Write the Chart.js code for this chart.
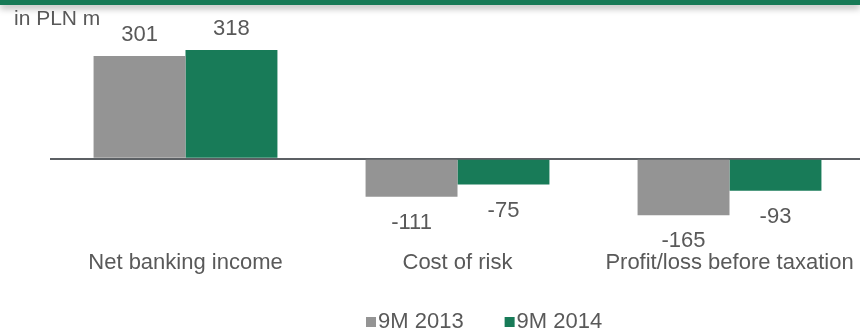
<!DOCTYPE html>
<html>
<head>
<meta charset="utf-8">
<script src="https://cdn.jsdelivr.net/npm/chart.js@4/dist/chart.umd.min.js"></script>
<style>
  html, body { margin: 0; padding: 0; background: #fff; }
  #wrap { position: relative; width: 860px; height: 331px; overflow: hidden; }
  #bar-top {
    position: absolute; left: 0; top: 0; width: 860px; height: 5px;
    background: #187a57; box-shadow: 0 3px 7px rgba(0,0,0,0.35); z-index: 2;
  }
  #results-chart { position: absolute; left: 0; top: 0; }
</style>
</head>
<body>
<div id="wrap">
  <div id="bar-top"></div>
  <canvas id="results-chart" width="870" height="331"></canvas>
</div>
<script>
// Chart data
const categories = ["Net banking income", "Cost of risk", "Profit/loss before taxation"];
const seriesNames = ["9M 2013", "9M 2014"];
const values2013 = [301, -111, -165];
const values2014 = [318, -75, -93];
const seriesColors = ["#949494", "#187b58"];

const textColor = "#595959";
const fontFamily = "'Liberation Sans', Arial, sans-serif";

// Value labels at the end of each bar
const barLabels = {
    id: "barLabels",
    afterDatasetsDraw(chart) {
        const ctx = chart.ctx;
        ctx.save();
        ctx.font = "22px " + fontFamily;
        ctx.fillStyle = textColor;
        ctx.textAlign = "center";
        ctx.textBaseline = "middle";
        chart.data.datasets.forEach(function(ds, i) {
            const meta = chart.getDatasetMeta(i);
            meta.data.forEach(function(bar, j) {
                const v = ds.data[j];
                const y = v >= 0 ? bar.y - 21 : bar.y + 26;
                ctx.fillText(String(v), bar.x, y);
            });
        });
        ctx.restore();
    }
};

// Unit caption and a compact legend (square right next to the text)
const extras = {
    id: "extras",
    afterDraw(chart) {
        const ctx = chart.ctx;
        ctx.save();
        ctx.font = "21px " + fontFamily;
        ctx.fillStyle = textColor;
        ctx.textBaseline = "middle";
        ctx.textAlign = "left";
        ctx.fillText("in PLN m", 14, 19);

        ctx.font = "22px " + fontFamily;
        let x = 366;
        const y = 322;
        chart.data.datasets.forEach(function(ds) {
            ctx.fillStyle = ds.backgroundColor;
            ctx.fillRect(x, y - 5, 10, 10);
            ctx.fillStyle = textColor;
            ctx.fillText(ds.label, x + 12, y);
            x += 12 + ctx.measureText(ds.label).width + 41;
        });
        ctx.restore();
    }
};

const chart = new Chart(document.getElementById("results-chart"), {
    type: "bar",
    data: {
        labels: categories,
        datasets: [
            { label: seriesNames[0], data: values2013, backgroundColor: seriesColors[0] },
            { label: seriesNames[1], data: values2014, backgroundColor: seriesColors[1] }
        ]
    },
    options: {
        responsive: false,
        animation: false,
        devicePixelRatio: 1,
        barPercentage: 1,
        categoryPercentage: 0.676,
        layout: { padding: { left: 49.5, right: 4.5, top: 20, bottom: 56 } },
        plugins: {
            legend: { display: false },
            tooltip: { enabled: false }
        },
        scales: {
            x: {
                grid: { display: false, drawTicks: false },
                border: { display: false },
                ticks: {
                    color: textColor,
                    font: { family: fontFamily, size: 22 },
                    padding: 5,
                    maxRotation: 0,
                    autoSkip: false
                },
                afterFit: function(s) { s.height = 30; }
            },
            y: {
                min: -252,
                max: 406,
                ticks: { display: false },
                border: { display: false },
                grid: {
                    drawTicks: false,
                    color: function(c) { return c.tick.value === 0 ? "#5c6064" : "rgba(0,0,0,0)"; },
                    lineWidth: 2
                },
                afterBuildTicks: function(s) {
                    s.ticks = [{ value: 0 }];
                },
                afterFit: function(s) { s.width = 0; }
            }
        }
    },
    plugins: [barLabels, extras]
});
</script>
</body>
</html>
